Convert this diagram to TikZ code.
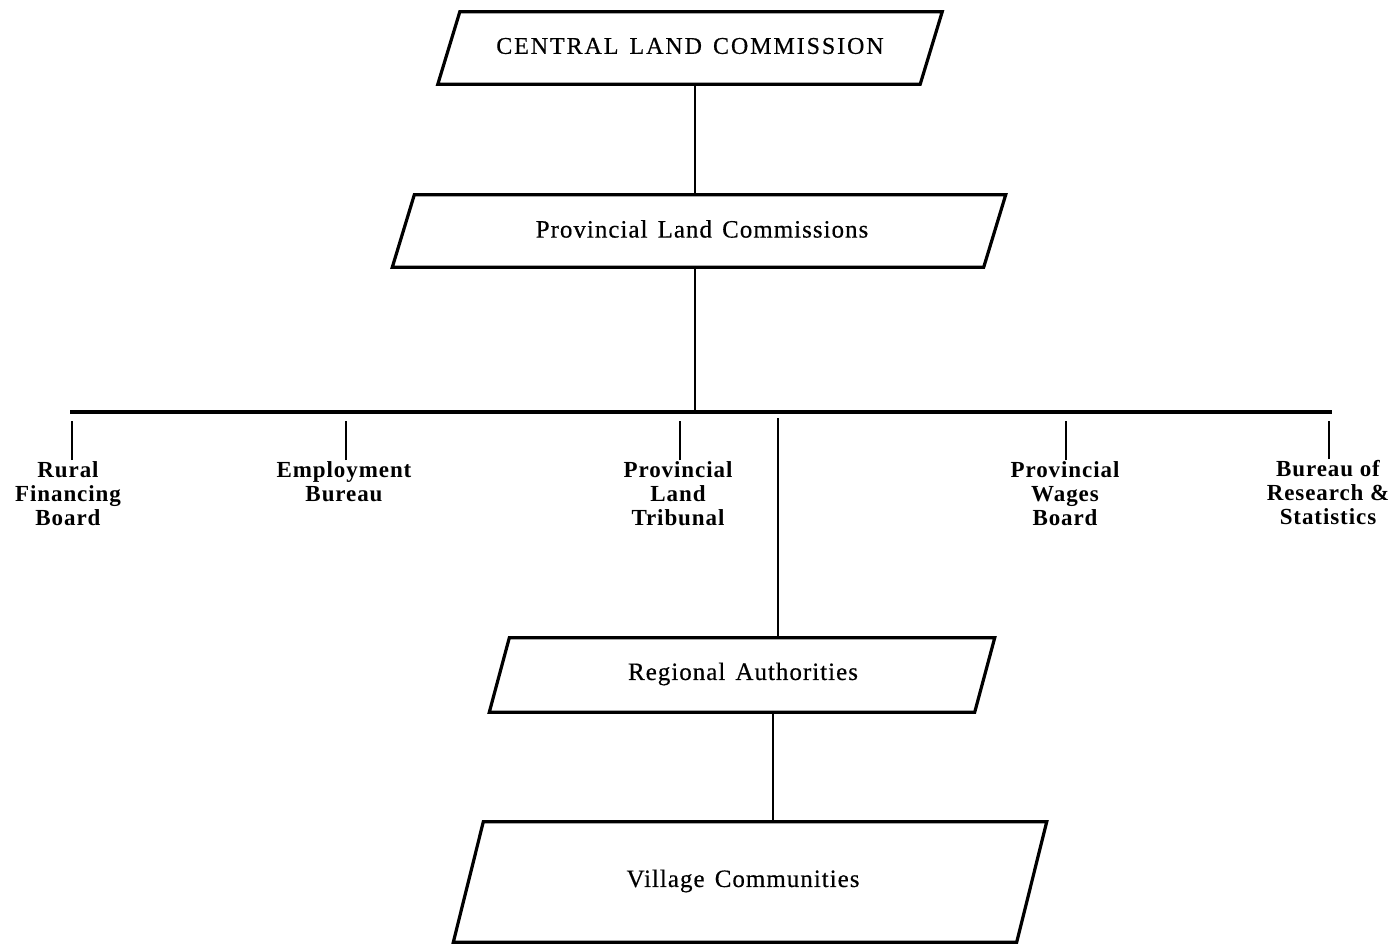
\documentclass[tikz,border=0pt]{standalone}
\usepackage{fontspec}
\setmainfont{Liberation Serif}
\newfontfamily\boxfont{Liberation Serif}[LetterSpace=4,WordSpace=1.4,FakeBold=0.4]
\newfontfamily\capfont{Liberation Serif}[LetterSpace=8,WordSpace=1.4,FakeBold=0.5]
\usetikzlibrary{calc}
\begin{document}
\begin{tikzpicture}[x=1pt,y=-1pt,
  boxlabel/.style={inner sep=0pt, font=\boxfont\fontsize{25}{28}\selectfont},
  branch/.style={inner sep=0pt, align=center, font=\fontsize{23}{24}\selectfont\bfseries\addfontfeatures{LetterSpace=4}},
  pbox/.style={draw=none, inner sep=0pt},
  edge/.style={line width=3.2pt},
  conn/.style={line width=1.1pt},
  bar/.style={line width=4.5pt}
]
\useasboundingbox (0,0) rectangle (1396,946);

% box frames (invisible rectangles used as anchors)
\node[pbox, minimum width=482pt, minimum height=72pt] (b1) at (690,48) {};
\node[pbox, minimum width=591pt, minimum height=72pt] (b2) at (699,231) {};
\node[pbox, minimum width=485pt, minimum height=74pt] (b3) at (742,675) {};
\node[pbox, minimum width=563pt, minimum height=120pt] (b4) at (750,882) {};

\newcommand{\pgram}[2]{%
  \draw[edge] ([xshift=#2pt]#1.north west) -- ([xshift=#2pt]#1.north east)
     -- ([xshift=-#2pt]#1.south east) -- ([xshift=-#2pt]#1.south west) -- cycle;}
\pgram{b1}{11}
\pgram{b2}{11}
\pgram{b3}{10}
\pgram{b4}{15}

\node[boxlabel, font=\capfont\fontsize{24}{26}\selectfont] (t1) at (690,46) {CENTRAL LAND COMMISSION};
\node[boxlabel] (t2) at (702,229) {Provincial Land Commissions};
\node[boxlabel] (t3) at (743,674) {Regional Authorities};
\node[boxlabel] (t4) at (743,881) {Village Communities};

% spine and bar
\coordinate (j) at (695,412);
\coordinate (barL) at (70,412);
\coordinate (barR) at (1332,412);
\draw[conn] (b1.south -| j) -- (b2.north -| j);
\draw[conn] (b2.south -| j) -- (j);
\draw[bar] (barL) -- (barR);

% branches
\node[branch, anchor=north] (rfb) at (68,461) {Rural\\Financing\\Board};
\node[branch, anchor=north] (emp) at (344,461) {Employment\\Bureau};
\node[branch, anchor=north] (plt) at (678,461) {Provincial\\Land\\Tribunal};
\node[branch, anchor=north] (pwb) at (1065,461) {Provincial\\Wages\\Board};
\node[branch, anchor=north] (brs) at (1328,460) {Bureau of\\Research \&\\Statistics};

\draw[conn] (rfb.north) ++(4,-1) -- ++(0,-39);
\draw[conn] (emp.north) ++(2,-1) -- ++(0,-39);
\draw[conn] (plt.north) ++(2,-1) -- ++(0,-39);
\draw[conn] (pwb.north) ++(1,-1) -- ++(0,-39);
\draw[conn] (brs.north) ++(1,-1) -- ++(0,-38);

% long line to regional authorities
\coordinate (r) at (778,418);
\draw[conn] (r) -- (b3.north -| r);
\coordinate (v) at (773,0);
\draw[conn] (b3.south -| v) -- (b4.north -| v);
\end{tikzpicture}
\end{document}
